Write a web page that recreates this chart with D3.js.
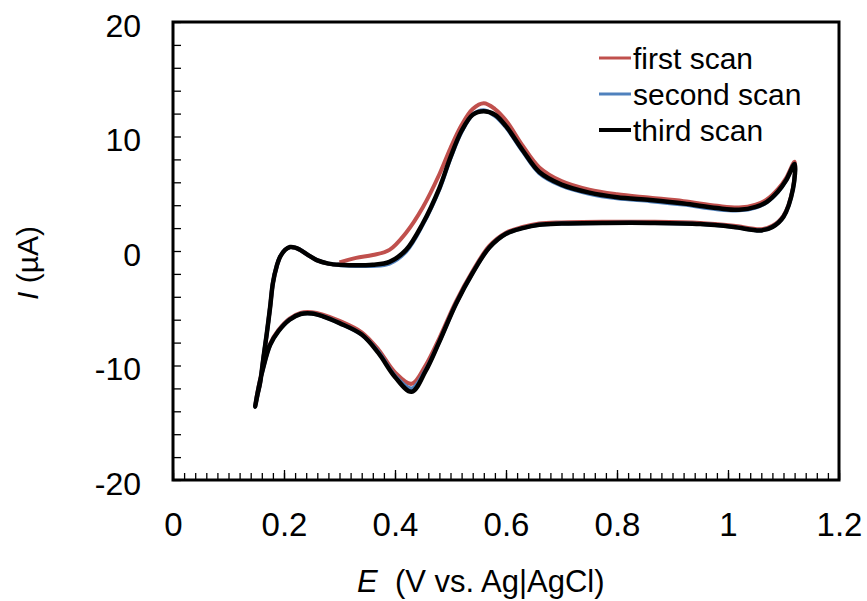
<!doctype html>
<html lang="en">
  <head>
    <meta charset="utf-8">
    <title>Cyclic voltammogram</title>
    <script src="https://d3js.org/d3.v7.min.js"></script>
    <style>
      body { margin: 0; background: #fff; }
      svg { display: block; font-family: "Liberation Sans", Arial, sans-serif; }
    </style>
  </head>
  <body>
    <div id="my_dataviz"></div>

    <script>
      // tick labels
      var xTicks = [0, 0.2, 0.4, 0.6, 0.8, 1, 1.2];
      var yTicks = [-20, -10, 0, 10, 20];

      // anodic sweep 0.30 -> 1.12 V
      var eFwd = [0.30, 0.33, 0.36, 0.39, 0.42, 0.45, 0.48, 0.50, 0.52, 0.54, 0.56, 0.58, 0.60, 0.63, 0.66, 0.70, 0.75, 0.80, 0.86, 0.92, 0.98, 1.02, 1.05, 1.07, 1.09, 1.105, 1.12];
      // cathodic sweep 1.12 -> 0.148 V
      var eRev = [1.117, 1.10, 1.08, 1.06, 1.01, 0.95, 0.86, 0.78, 0.70, 0.66, 0.63, 0.60, 0.57, 0.54, 0.51, 0.48, 0.455, 0.43, 0.40, 0.37, 0.34, 0.30, 0.27, 0.25, 0.23, 0.21, 0.19, 0.175, 0.162, 0.152, 0.148];
      // back up to 0.30 V
      var eEnd = [0.152, 0.157, 0.163, 0.169, 0.175, 0.180, 0.187, 0.193, 0.202, 0.211, 0.22, 0.229, 0.245, 0.259, 0.28, 0.30];

      var firstFwd  = [-1.0, -0.6, -0.35, 0.1, 1.6, 3.8, 6.7, 9.0, 11.0, 12.4, 12.9, 12.4, 11.4, 9.2, 7.3, 6.1, 5.35, 4.95, 4.65, 4.35, 3.95, 3.8, 4.05, 4.5, 5.4, 6.4, 7.8];
      var firstRev  = [5.5, 3.1, 2.2, 1.9, 2.2, 2.45, 2.55, 2.55, 2.5, 2.4, 2.1, 1.6, 0.45, -1.75, -4.4, -7.6, -10.0, -11.6, -10.6, -8.6, -7.1, -6.1, -5.55, -5.35, -5.4, -5.9, -6.9, -8.1, -10.2, -12.4, -13.5];
      var firstEnd  = [-12.6, -11.5, -9.3, -7.2, -4.9, -2.8, -1.3, -0.5, 0.1, 0.35, 0.3, 0.1, -0.4, -0.8, -1.1, -1.2];

      var secondFwd = [-1.25, -1.3, -1.3, -1.1, -0.05, 2.3, 5.4, 8.1, 10.4, 11.9, 12.3, 11.8, 10.8, 8.7, 6.8, 5.7, 5.0, 4.6, 4.35, 4.05, 3.65, 3.55, 3.8, 4.25, 5.15, 6.2, 7.6];
      var secondRev = [5.4, 3.0, 2.1, 1.8, 2.1, 2.35, 2.45, 2.45, 2.4, 2.3, 2.0, 1.5, 0.3, -1.9, -4.6, -7.9, -10.4, -12.0, -10.9, -8.8, -7.3, -6.3, -5.7, -5.45, -5.5, -6.0, -7.0, -8.2, -10.3, -12.5, -13.6];
      var secondEnd = [-12.6, -11.5, -9.3, -7.2, -4.9, -2.8, -1.3, -0.5, 0.1, 0.35, 0.3, 0.1, -0.4, -0.8, -1.1, -1.2];

      var thirdFwd  = [-1.2, -1.25, -1.2, -0.95, 0.1, 2.4, 5.5, 8.2, 10.5, 11.9, 12.2, 11.9, 10.9, 8.8, 6.9, 5.8, 5.1, 4.7, 4.45, 4.15, 3.75, 3.6, 3.85, 4.3, 5.2, 6.2, 7.6];
      var thirdRev  = [5.4, 3.0, 2.1, 1.8, 2.1, 2.35, 2.45, 2.45, 2.4, 2.3, 2.0, 1.5, 0.3, -1.9, -4.6, -7.9, -10.5, -12.3, -11.0, -8.9, -7.3, -6.3, -5.7, -5.45, -5.5, -6.0, -7.0, -8.2, -10.3, -12.5, -13.6];
      var thirdEnd  = [-12.6, -11.5, -9.3, -7.2, -4.9, -2.8, -1.3, -0.5, 0.1, 0.35, 0.3, 0.1, -0.4, -0.8, -1.1, -1.2];

      var seriesNames = ["first scan", "second scan", "third scan"];
      var seriesColors = ["#C0504D", "#4F81BD", "#000000"];

      var eAll = eFwd.concat(eRev, eEnd);
      function pts(a, b, c) {
        var cur = a.concat(b, c);
        return eAll.map(function(e, i) { return { e: e, i: cur[i] }; });
      }
      var scans = [
        pts(firstFwd, firstRev, firstEnd),
        pts(secondFwd, secondRev, secondEnd),
        pts(thirdFwd, thirdRev, thirdEnd)
      ];

      var margin = {top: 22, right: 28, bottom: 121, left: 173},
          width = 867 - margin.left - margin.right,
          height = 601 - margin.top - margin.bottom;

      var root = d3.select("#my_dataviz")
        .append("svg")
          .attr("width", 867)
          .attr("height", 601);

      root.append("rect").attr("width", 867).attr("height", 601).attr("fill", "#fff");

      var svg = root.append("g")
          .attr("transform", "translate(" + margin.left + "," + margin.top + ")");

      var x = d3.scaleLinear().domain([0, 1.2]).range([0, width]);
      var y = d3.scaleLinear().domain([-20, 20]).range([height, 0]);

      // x axis: minor ticks, major ticks, labels
      svg.append("g")
        .attr("transform", "translate(0," + height + ")")
        .call(d3.axisBottom(x).tickValues(d3.range(0, 61).map(function(k) { return k / 50; })).tickSize(-7).tickFormat(""))
        .call(function(g) { g.select(".domain").remove(); g.selectAll("line").attr("stroke", "#000").attr("stroke-width", 1.3); });

      svg.append("g")
        .attr("transform", "translate(0," + height + ")")
        .call(d3.axisBottom(x).tickValues(xTicks).tickSize(-10).tickPadding(33).tickFormat(function(d) { return String(d); }))
        .call(function(g) {
          g.select(".domain").remove();
          g.selectAll("line").attr("stroke", "#000").attr("stroke-width", 1.3);
          g.selectAll("text").attr("font-size", 33).attr("fill", "#000").attr("font-family", "Liberation Sans, Arial, sans-serif");
        });

      // y axis
      svg.append("g")
        .call(d3.axisLeft(y).tickValues(d3.range(-20, 21, 2)).tickSize(-8).tickFormat(""))
        .call(function(g) { g.select(".domain").remove(); g.selectAll("line").attr("stroke", "#000").attr("stroke-width", 1.3); });

      svg.append("g")
        .call(d3.axisLeft(y).tickValues(yTicks).tickSize(0).tickPadding(32).tickFormat(function(d) { return String(d); }))
        .call(function(g) {
          g.select(".domain").remove();
          g.selectAll("text").attr("font-size", 32).attr("fill", "#000").attr("dy", "0.45em").attr("font-family", "Liberation Sans, Arial, sans-serif");
        });

      // frame
      svg.append("rect")
        .attr("width", width)
        .attr("height", height)
        .attr("fill", "none")
        .attr("stroke", "#000")
        .attr("stroke-width", 3);

      // curves
      var line = d3.line()
        .x(function(d) { return x(d.e); })
        .y(function(d) { return y(d.i); })
        .curve(d3.curveCatmullRom.alpha(0.5));

      scans.forEach(function(s, k) {
        svg.append("path")
          .datum(s)
          .attr("fill", "none")
          .attr("stroke", seriesColors[k])
          .attr("stroke-width", k == 2 ? 4.5 : 4)
          .attr("stroke-linejoin", "round")
          .attr("d", line);
      });

      // legend
      var legend = root.append("g").attr("transform", "translate(599,58)");
      seriesNames.forEach(function(n, k) {
        var row = legend.append("g").attr("transform", "translate(0," + (k * 36) + ")");
        row.append("line")
          .attr("x1", 0).attr("x2", 32)
          .attr("stroke", seriesColors[k])
          .attr("stroke-width", k == 2 ? 4 : 3);
        row.append("text")
          .attr("x", 34)
          .attr("dy", "0.36em")
          .attr("font-size", 30)
          .text(n);
      });

      // axis titles
      var xt = root.append("text")
        .attr("x", 357)
        .attr("y", 592)
        .attr("font-size", 31);
      xt.append("tspan").attr("font-style", "italic").text("E");
      xt.append("tspan").text("\u00a0 (V vs. Ag|AgCl)");

      var yt = root.append("text")
        .attr("transform", "translate(38,263) rotate(-90)")
        .attr("text-anchor", "middle")
        .attr("font-size", 30);
      yt.append("tspan").attr("font-style", "italic").text("I");
      yt.append("tspan").text(" (\u00b5A)");
    </script>
  </body>
</html>
